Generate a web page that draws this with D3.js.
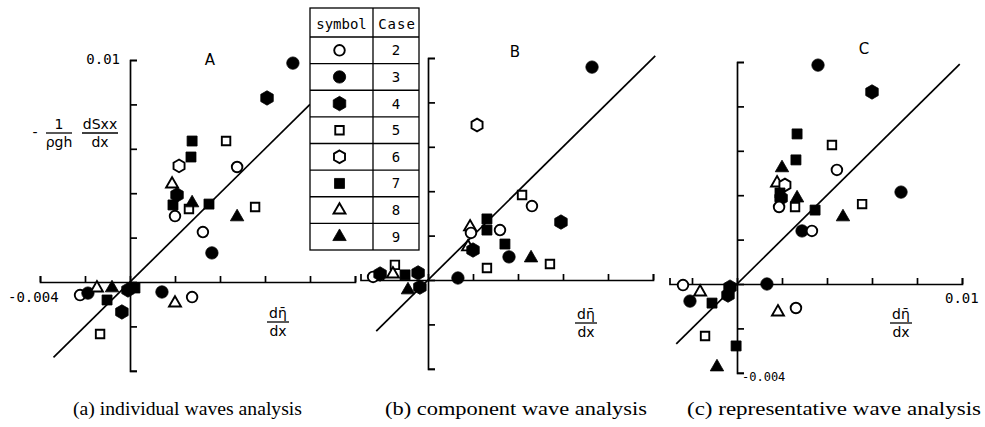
<!DOCTYPE html>
<html>
<head>
<meta charset="utf-8">
<script src="https://cdn.jsdelivr.net/npm/d3@7"></script>
<style>
  body { margin: 0; background: #fff; }
  svg { display: block; }
  .mono { font-family: "DejaVu Sans Mono", "Liberation Mono", monospace; }
  .sans { font-family: "DejaVu Sans", "Liberation Sans", sans-serif; }
  .serif { font-family: "Liberation Serif", "DejaVu Serif", serif; }
</style>
</head>
<body>
<div id="chart"></div>
<script>
// cases shown in the legend table, with their marker
const cases = [2, 3, 4, 5, 6, 7, 8, 9];
const caseShapes = ["circle", "circle", "hexagon", "square", "hexagon", "square", "triangle", "triangle"];
const caseFilled = [false, true, true, false, false, true, false, true];

// [case, d(eta)/dx, -1/(rho g h) dSxx/dx]
const pointsA = [
  [3, 0.00724, 0.00986], [4, 0.00609, 0.00829], [7, 0.00276, 0.00635], [5, 0.00427, 0.00635],
  [7, 0.00271, 0.00563], [6, 0.00218, 0.00523], [2, 0.00476, 0.00518], [8, 0.00187, 0.00441],
  [4, 0.00209, 0.00392], [7, 0.00191, 0.00347], [2, 0.00200, 0.00297], [5, 0.00262, 0.00329],
  [9, 0.00276, 0.00356], [7, 0.00351, 0.00351], [5, 0.00556, 0.00338], [9, 0.00476, 0.00293],
  [2, 0.00324, 0.00225], [3, 0.00364, 0.00131], [3, 0.00142, -0.00045], [8, 0.00200, -0.00095],
  [2, 0.00276, -0.00068], [2, -0.00222, -0.00059], [3, -0.00187, -0.00050], [8, -0.00147, -0.00027],
  [7, -0.00102, -0.00081], [9, -0.00080, -0.00027], [4, -0.00009, -0.00036], [7, 0.00022, -0.00027],
  [4, -0.00036, -0.00135], [5, -0.00133, -0.00234]
];
const pointsB = [
  [3, 0.00729, 0.00959], [6, 0.00218, 0.00698], [5, 0.00418, 0.00383], [2, 0.00462, 0.00333],
  [4, 0.00591, 0.00261], [8, 0.00187, 0.00239], [2, 0.00191, 0.00212], [7, 0.00262, 0.00275],
  [7, 0.00262, 0.00225], [2, 0.00320, 0.00225], [8, 0.00178, 0.00149], [4, 0.00200, 0.00135],
  [7, 0.00342, 0.00162], [3, 0.00360, 0.00104], [9, 0.00458, 0.00099], [5, 0.00542, 0.00072],
  [5, 0.00262, 0.00054], [3, 0.00133, 0.00009], [2, -0.00244, 0.00014], [4, -0.00213, 0.00027],
  [5, -0.00147, 0.00068], [8, -0.00156, 0.00027], [7, -0.00102, 0.00023], [4, -0.00044, 0.00032],
  [9, -0.00089, -0.00045], [4, -0.00036, -0.00032]
];
const pointsC = [
  [3, 0.00360, 0.00986], [4, 0.00600, 0.00865], [7, 0.00267, 0.00676], [5, 0.00422, 0.00626],
  [7, 0.00262, 0.00559], [2, 0.00444, 0.00514], [9, 0.00200, 0.00523], [8, 0.00178, 0.00455],
  [6, 0.00213, 0.00446], [7, 0.00191, 0.00410], [4, 0.00196, 0.00387], [9, 0.00267, 0.00387],
  [2, 0.00187, 0.00347], [5, 0.00258, 0.00347], [7, 0.00347, 0.00333], [5, 0.00556, 0.00360],
  [3, 0.00729, 0.00414], [9, 0.00471, 0.00302], [3, 0.00289, 0.00239], [2, 0.00333, 0.00239],
  [3, 0.00133, 0.00000], [2, -0.00240, -0.00005], [8, -0.00164, -0.00036], [3, -0.00209, -0.00077],
  [7, -0.00111, -0.00086], [4, -0.00031, -0.00014], [4, -0.00040, -0.00050], [8, 0.00182, -0.00126],
  [2, 0.00262, -0.00108], [5, -0.00142, -0.00234], [7, -0.00004, -0.00279], [9, -0.00089, -0.00374]
];

// axis extents and the 1:1 line ends for each panel
const xExtentA = [-0.004, 0.01], xExtentB = [-0.003, 0.01], xExtentC = [-0.003, 0.01];
const yExtent = [-0.004, 0.01];
const lineA = [-0.0034, 0.0080], lineB = [-0.0023, 0.0101], lineC = [-0.0027, 0.0099];
const tickValues = [-4, -2, 0, 2, 4, 6, 8, 10].map(v => v / 1000);
const captions = ["(a) individual waves analysis", "(b) component wave analysis", "(c) representative wave analysis"];

var width = 985, height = 427;
var pxX = 22.5, pxY = 22.2;   // pixels per 0.001

var svg = d3.select("#chart").append("svg")
  .attr("width", width).attr("height", height)
  .style("background", "#fff");

var hexagon = {
  draw: function (ctx, size) {
    var r = Math.sqrt(size / (3 * Math.sqrt(3) / 2));
    for (var i = 0; i < 6; i++) {
      var a = -Math.PI / 2 + i * Math.PI / 3;
      if (i === 0) ctx.moveTo(r * Math.cos(a), r * Math.sin(a));
      else ctx.lineTo(r * Math.cos(a), r * Math.sin(a));
    }
    ctx.closePath();
  }
};

function markerPath(c) {
  var i = cases.indexOf(c);
  var shape = caseShapes[i], filled = caseFilled[i];
  if (shape === "circle") return d3.symbol().type(d3.symbolCircle).size(filled ? 120 : 88)();
  if (shape === "square") return d3.symbol().type(d3.symbolSquare).size(filled ? 100 : 72)();
  if (shape === "triangle") return d3.symbol().type(d3.symbolTriangle).size(filled ? 78 : 62)();
  return d3.symbol().type(hexagon).size(filled ? 135 : 105)();
}

function drawMarker(g, c, px, py) {
  var i = cases.indexOf(c);
  g.append("path")
    .attr("d", markerPath(c))
    .attr("transform", "translate(" + px + "," + py + ")")
    .attr("fill", caseFilled[i] ? "#000" : "#fff")
    .attr("stroke", "#000")
    .attr("stroke-width", caseFilled[i] ? 0.8 : 1.9);
}

function fracLabel(g, cx, top, bottom, lineY, halfW) {
  g.append("text").attr("class", "sans").attr("x", cx).attr("y", lineY - 4)
    .attr("text-anchor", "middle").attr("font-size", 14).text(top);
  g.append("line").attr("x1", cx - halfW).attr("x2", cx + halfW)
    .attr("y1", lineY).attr("y2", lineY).attr("stroke", "#000").attr("stroke-width", 1.3);
  g.append("text").attr("class", "sans").attr("x", cx).attr("y", lineY + 14)
    .attr("text-anchor", "middle").attr("font-size", 14).text(bottom);
}

function drawPanel(opt) {
  var x = d3.scaleLinear().domain([-0.004, 0.01]).range([opt.x0 - 4 * pxX, opt.x0 + 10 * pxX]);
  var y = d3.scaleLinear().domain([-0.004, 0.01]).range([opt.y0 + 4 * pxY, opt.y0 - 10 * pxY]);
  var g = svg.append("g");

  // x axis, ticks pointing up
  var xs = d3.scaleLinear().domain(opt.xExt).range(opt.xExt.map(x));
  var xAxis = d3.axisTop(xs)
    .tickValues(tickValues.filter(v => v >= opt.xExt[0] - 1e-9 && v <= opt.xExt[1] + 1e-9))
    .tickFormat("").tickSize(6).tickSizeOuter(6);
  g.append("g").attr("transform", "translate(0," + y(0) + ")").call(xAxis);

  // y axis, ticks pointing right
  var ys = d3.scaleLinear().domain(yExtent).range(yExtent.map(y));
  var yAxis = d3.axisRight(ys).tickValues(tickValues).tickFormat("").tickSize(7).tickSizeOuter(7);
  g.append("g").attr("transform", "translate(" + x(0) + ",0)").call(yAxis);

  g.selectAll(".domain, .tick line").attr("stroke", "#000").attr("stroke-width", 1.7);

  // 1:1 line
  g.append("line")
    .attr("x1", x(opt.line[0])).attr("y1", y(opt.line[0]))
    .attr("x2", x(opt.line[1])).attr("y2", y(opt.line[1]))
    .attr("stroke", "#000").attr("stroke-width", 1.7);

  opt.points.forEach(p => drawMarker(g, p[0], x(p[1]), y(p[2])));

  g.append("text").attr("class", "sans").attr("x", opt.letterX).attr("y", opt.letterY)
    .attr("text-anchor", "middle").attr("font-size", 15).text(opt.letter);

  // d(eta bar)/dx label
  fracLabel(g, opt.labelX, "d\u03B7\u0304", "dx", opt.labelY, 11);

  g.append("text").attr("class", "serif")
    .attr("x", opt.captionX).attr("y", 415).attr("font-size", 19)
    .attr("textLength", opt.captionW).attr("lengthAdjust", "spacingAndGlyphs")
    .text(opt.caption);
  return { x: x, y: y, g: g };
}

var A = drawPanel({ x0: 130, y0: 282, xExt: xExtentA, line: lineA, points: pointsA,
  letter: "A", letterX: 210, letterY: 65, labelX: 278, labelY: 322,
  captionX: 73, captionW: 229, caption: captions[0] });

// y axis title and range labels of panel A
A.g.append("text").attr("class", "mono").attr("x", 120).attr("y", 64)
  .attr("text-anchor", "end").attr("font-size", 14).text("0.01");
A.g.append("text").attr("class", "mono").attr("x", 8).attr("y", 302)
  .attr("font-size", 14).text("-0.004");
A.g.append("text").attr("class", "sans").attr("x", 35).attr("y", 137)
  .attr("text-anchor", "middle").attr("font-size", 14).text("-");
fracLabel(A.g, 59, "1", "\u03C1gh", 133, 13);
fracLabel(A.g, 100, "dSxx", "dx", 133, 18);

var B = drawPanel({ x0: 428, y0: 280, xExt: xExtentB, line: lineB, points: pointsB,
  letter: "B", letterX: 515, letterY: 57, labelX: 586, labelY: 323,
  captionX: 385, captionW: 262, caption: captions[1] });

var C = drawPanel({ x0: 737, y0: 284, xExt: xExtentC, line: lineC, points: pointsC,
  letter: "C", letterX: 864, letterY: 54, labelX: 901, labelY: 323,
  captionX: 687, captionW: 294, caption: captions[2] });

C.g.append("text").attr("class", "mono").attr("x", 945).attr("y", 303)
  .attr("font-size", 14).text("0.01");
C.g.append("text").attr("class", "mono").attr("x", 742).attr("y", 381)
  .attr("font-size", 12).text("-0.004");

// legend table
var table = svg.append("g");
var tLeft = 310, tRight = 419, tDiv = 373, tTop = 8, tHead = 37, tBottom = 250;
var rowH = (tBottom - tHead) / cases.length;
table.append("rect").attr("x", tLeft).attr("y", tTop)
  .attr("width", tRight - tLeft).attr("height", tBottom - tTop)
  .attr("fill", "#fff").attr("stroke", "#000").attr("stroke-width", 1.3);
table.append("line").attr("x1", tDiv).attr("x2", tDiv).attr("y1", tTop).attr("y2", tBottom)
  .attr("stroke", "#000").attr("stroke-width", 1.3);
table.append("line").attr("x1", tLeft).attr("x2", tRight).attr("y1", tHead).attr("y2", tHead)
  .attr("stroke", "#000").attr("stroke-width", 1.3);
table.append("text").attr("class", "mono").attr("x", (tLeft + tDiv) / 2).attr("y", 29)
  .attr("text-anchor", "middle").attr("font-size", 14).text("symbol");
table.append("text").attr("class", "mono").attr("x", (tDiv + tRight) / 2 + 1).attr("y", 29)
  .attr("text-anchor", "middle").attr("font-size", 14).attr("letter-spacing", 1).text("Case");

cases.forEach((c, i) => {
  var cy = tHead + rowH * (i + 0.5);
  if (i > 0) {
    table.append("line").attr("x1", tLeft).attr("x2", tRight)
      .attr("y1", tHead + rowH * i).attr("y2", tHead + rowH * i)
      .attr("stroke", "#000").attr("stroke-width", 1.3);
  }
  drawMarker(table, c, (tLeft + tDiv) / 2 - 2, cy);
  table.append("text").attr("class", "mono").attr("x", (tDiv + tRight) / 2).attr("y", cy + 5)
    .attr("text-anchor", "middle").attr("font-size", 14).text(c);
});
</script>
</body>
</html>
